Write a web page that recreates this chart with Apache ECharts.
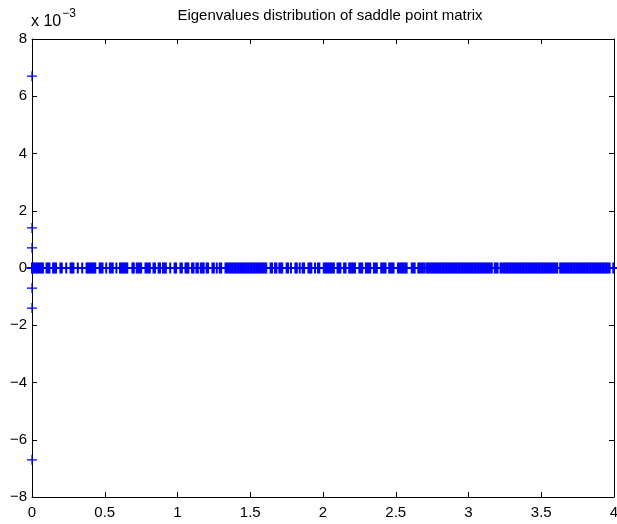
<!DOCTYPE html>
<html>
<head>
<meta charset="utf-8">
<script src="https://cdn.jsdelivr.net/npm/echarts@6/dist/echarts.min.js"></script>
<style>
html,body{margin:0;padding:0;background:#fff;}
#chart{width:617px;height:524px;}
</style>
</head>
<body>
<div id="chart"></div>
<script>
// Real eigenvalues (imaginary part 0)
var realEigs = [
0.0,0.005,0.015,0.025,0.035,0.045,0.055,0.065,0.075,0.10,0.11,0.12,0.145,0.155,0.165,0.195,0.205,0.235,0.265,0.275,0.285,0.315,0.345,0.375,0.385,0.395,0.405,0.415,0.425,0.435,0.465,0.475,0.485,0.51,0.535,0.545,0.555,0.58,0.605,0.615,0.625,0.635,0.645,0.655,
0.69,0.70,0.72,0.73,0.74,0.75,0.78,0.79,0.80,0.81,0.835,0.845,0.87,0.88,0.90,0.91,0.92,0.95,0.98,0.99,1.02,1.03,1.055,1.065,1.075,1.10,1.11,1.13,1.14,1.16,1.17,1.18,1.20,1.21,1.24,1.25,1.27,1.29,1.30,1.33,1.34,
1.35,1.36,1.37,1.38,1.39,1.40,1.41,1.42,1.43,1.44,1.45,1.46,1.47,1.48,1.49,1.50,1.51,1.52,1.53,1.54,1.55,1.56,1.57,1.58,1.59,1.60,1.61,
1.64,1.65,1.67,1.68,1.70,1.71,1.72,1.75,1.76,1.78,1.81,1.82,1.84,1.86,1.87,1.90,1.91,1.92,1.945,1.965,1.975,2.005,2.015,
2.025,2.035,2.045,2.055,2.065,2.075,2.10,2.11,2.12,2.145,2.155,2.18,2.19,2.20,2.21,2.22,2.25,2.26,2.27,2.295,2.305,2.315,2.325,2.35,2.36,2.37,2.40,2.41,2.42,2.43,2.455,2.465,2.475,2.485,2.515,2.525,2.535,2.545,2.555,2.565,2.575,2.61,2.62,2.63,2.655,2.665,2.675,2.685,2.695,
2.71,2.72,2.73,2.74,2.75,2.76,2.77,2.78,2.79,2.80,2.81,2.82,2.83,2.84,2.85,2.86,2.87,2.88,2.89,2.90,2.91,2.92,2.93,2.94,2.95,2.96,2.97,2.98,2.99,3.00,3.01,3.02,3.03,3.04,3.05,3.06,3.07,3.08,3.09,3.10,3.11,3.12,3.13,3.14,3.15,3.16,3.18,3.19,3.20,3.22,3.23,3.24,3.25,3.26,3.27,3.28,3.29,3.30,3.31,3.32,3.33,3.34,3.35,3.36,3.37,
3.38,3.39,3.40,3.41,3.42,3.43,3.44,3.45,3.46,3.47,3.48,3.49,3.50,3.51,3.52,3.53,3.54,3.55,3.56,3.57,3.58,3.59,3.60,3.61,3.63,3.64,3.65,3.66,3.67,3.68,3.69,3.70,3.71,3.72,3.73,3.74,3.75,3.76,3.77,3.78,3.79,3.80,3.81,3.82,3.83,3.84,3.85,3.86,3.87,3.88,3.89,3.90,3.91,3.92,3.93,3.94,3.95,3.96,3.97,3.995
];
// Complex eigenvalues near zero (real part, imaginary part in units of 1e-3)
var complexRe = [0, 0, 0, 0, 0, 0];
var complexIm = [6.7, 1.4, 0.7, -0.7, -1.4, -6.7];

var xTicks = {min: 0, max: 4, interval: 0.5};
var yTicks = {min: -8, max: 8, interval: 2};
var titleText = 'Eigenvalues distribution of saddle point matrix';

var realPts = realEigs.map(function (v) { return [v, 0]; });
var complexPts = complexRe.map(function (v, i) { return [v, complexIm[i]]; });

var FONT = 'Liberation Sans, Arial, Helvetica, sans-serif';
var plus = 'path://M0,5L10,5M5,0L5,10';
var axisCommon = {
  axisLine: {show: true, onZero: false, lineStyle: {color: '#000', width: 1}},
  axisTick: {show: true, inside: true, length: 5, lineStyle: {color: '#000', width: 1}},
  splitLine: {show: false}
};

var chart = echarts.init(document.getElementById('chart'), null, {renderer: 'canvas'});
chart.setOption({
  backgroundColor: '#fff',
  animation: false,
  grid: {left: 32, right: 3, top: 39, bottom: 27, containLabel: false, outerBoundsMode: 'none'},
  title: {
    text: titleText, left: 325, top: 3, textAlign: 'center',
    textStyle: {fontFamily: FONT, fontSize: 15, fontWeight: 'normal', color: '#000'}
  },
  graphic: [{
    type: 'text', left: 31, top: 8,
    style: {
      text: '{a|x 10}{b|\u22123}',
      rich: {
        a: {fontFamily: FONT, fontSize: 16, fill: '#000', verticalAlign: 'bottom', lineHeight: 22},
        b: {fontFamily: FONT, fontSize: 12, fill: '#000', verticalAlign: 'top', padding: [0, 0, 10, 1], lineHeight: 22}
      }
    }
  }],
  xAxis: [
    Object.assign({type: 'value', position: 'bottom', min: xTicks.min, max: xTicks.max, interval: xTicks.interval,
      axisLabel: {show: true, margin: 8, fontFamily: FONT, fontSize: 15, color: '#000', showMinLabel: true, showMaxLabel: true}}, axisCommon),
    Object.assign({type: 'value', position: 'top', min: xTicks.min, max: xTicks.max, interval: xTicks.interval,
      axisLabel: {show: false}}, axisCommon)
  ],
  yAxis: [
    Object.assign({type: 'value', position: 'left', min: yTicks.min, max: yTicks.max, interval: yTicks.interval,
      axisLabel: {show: true, margin: 5, fontFamily: FONT, fontSize: 15, color: '#000',
        formatter: function (v) { return String(v).replace('-', '\u2212'); }}}, axisCommon),
    Object.assign({type: 'value', position: 'right', min: yTicks.min, max: yTicks.max, interval: yTicks.interval,
      axisLabel: {show: false}}, axisCommon)
  ],
  series: [{
    type: 'scatter',
    xAxisIndex: 0, yAxisIndex: 0,
    data: realPts,
    symbol: plus,
    symbolSize: 11,
    clip: false,
    silent: true,
    itemStyle: {color: 'rgba(0,0,0,0)', borderColor: '#0000ff', borderWidth: 2, opacity: 1},
    emphasis: {disabled: true}
  }, {
    type: 'scatter',
    xAxisIndex: 0, yAxisIndex: 0,
    data: complexPts,
    symbol: plus,
    symbolSize: 10,
    clip: false,
    silent: true,
    itemStyle: {color: 'rgba(0,0,0,0)', borderColor: '#0000ff', borderWidth: 1.2, opacity: 1},
    emphasis: {disabled: true}
  }]
});
</script>
</body>
</html>
